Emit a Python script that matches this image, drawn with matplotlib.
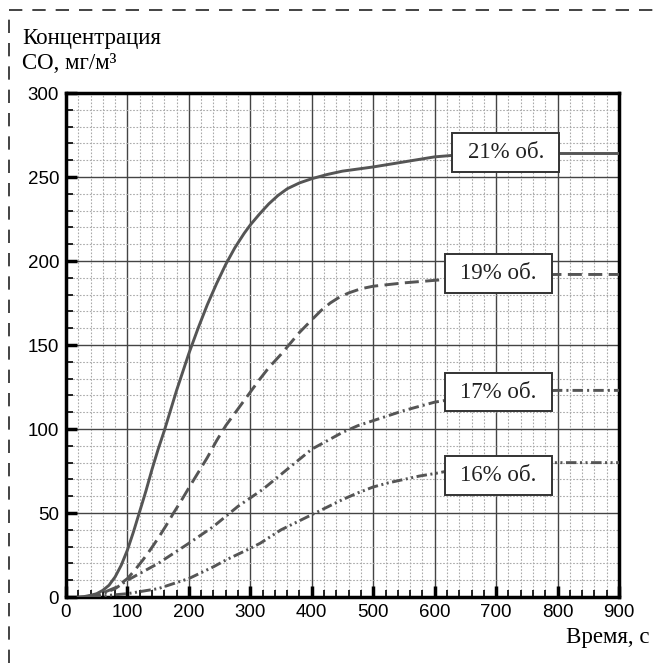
import matplotlib
matplotlib.use("Agg")
from matplotlib import pyplot as plt
from matplotlib.lines import Line2D
from matplotlib.patches import Rectangle
from matplotlib.ticker import MultipleLocator

# время, с  /  концентрация CO, мг/м3
t21 = [20, 30, 40, 50, 60, 70, 80, 90, 100, 110, 120, 130, 140, 150, 160,
       170, 180, 190, 200, 215, 230, 245, 260, 275, 290, 300, 315, 330, 345,
       360, 380, 400, 425, 450, 500, 550, 600, 650, 700, 900]
c21 = [0, 0.3, 1, 2, 4, 7, 12, 19, 28, 39, 51, 63, 76, 88, 99,
       111, 123, 134, 145, 160, 174, 186.5, 198, 208, 216.5, 221.5, 228, 234, 239,
       243, 246.5, 249, 251.5, 253.5, 256, 259, 262, 263.5, 264, 264]

t19 = [30, 45, 60, 80, 100, 112, 125, 137, 150, 162, 175, 187, 200, 215,
       230, 245, 260, 280, 300, 315, 330, 350, 365, 380, 400, 415, 430, 445,
       460, 480, 500, 550, 600, 650, 700, 800, 900]
c19 = [0, 1, 2.5, 5.5, 11, 16, 22, 28, 35, 42, 50, 57, 65, 74,
       83, 93, 102, 112, 122, 129.5, 136.5, 144.5, 151, 157.5, 165, 170.5, 175, 178.5,
       181, 183.5, 185, 187, 188.5, 190, 191.5, 192, 192]

t17 = [40, 50, 60, 70, 80, 90, 100, 125, 150, 175, 200, 220, 240, 260, 280,
       300, 320, 340, 360, 380, 400, 425, 450, 475, 500, 550, 600, 650, 700,
       800, 900]
c17 = [0, 1, 2, 3.5, 5, 7.5, 10, 15, 20, 26, 32, 37, 42, 48, 54,
       59, 64, 70, 76, 82, 88, 93, 98, 102, 105, 111, 116, 119, 122,
       123, 123]

t16 = [40, 70, 100, 125, 150, 175, 200, 220, 240, 260, 283, 300, 316, 333,
       350, 375, 400, 425, 450, 475, 500, 525, 550, 575, 600, 650, 700, 800,
       900]
c16 = [0, 1, 2, 3.5, 5, 8, 11, 14.5, 18, 22, 26, 29, 32, 36,
       40, 44.5, 49, 53.5, 58, 62, 65.5, 68, 70, 72, 73.5, 77, 79.5, 80,
       80]

labels = ["21% об.", "19% об.", "17% об.", "16% об."]
label_x = [716, 704, 704, 704]
label_y = [264.5, 192.5, 122, 72.5]

serif = ["Liberation Serif", "DejaVu Serif"]
sans = ["Liberation Sans", "DejaVu Sans"]
line_col = "#555555"

fig = plt.figure(figsize=(6.54, 6.63), dpi=100)
ax = fig.add_axes([0.1009, 0.0995, 0.8456, 0.7602])

ax.plot(t21, c21, color=line_col, lw=2.1, zorder=3)
ax.plot(t19, c19, color=line_col, lw=2.1, dashes=(4.8, 2.2), zorder=3)
ax.plot(t17, c17, color=line_col, lw=2.1, dashes=(3.6, 1.4, 0.7, 1.4), zorder=3)
ax.plot(t16, c16, color=line_col, lw=2.1,
        dashes=(3.6, 1.2, 0.7, 1.2, 0.7, 1.2), zorder=3)

# подписи в рамках
for txt, x, y in zip(labels, label_x, label_y):
    ax.add_patch(Rectangle((x - 87, y - 11.5), 174, 23, facecolor="white",
                           edgecolor="#333333", lw=1.4, zorder=5))
    ax.text(x, y, txt, ha="center", va="center", fontsize=16.5,
            family=serif, color="#222222", zorder=6)

ax.set_xlim(0, 900)
ax.set_ylim(0, 300)
ax.xaxis.set_major_locator(MultipleLocator(100))
ax.xaxis.set_minor_locator(MultipleLocator(20))
ax.yaxis.set_major_locator(MultipleLocator(50))
ax.yaxis.set_minor_locator(MultipleLocator(10))

ax.grid(which="major", color="#444444", lw=1.0, zorder=1)
ax.grid(which="minor", color="#aaaaaa", lw=0.8, ls=(0, (1.5, 1.5)), zorder=1)
ax.set_axisbelow(True)

ax.tick_params(which="major", direction="in", length=8, width=2.5,
               top=False, right=False, labelsize=13.5, pad=5)
ax.tick_params(which="minor", direction="in", length=5, width=1.2,
               top=False, right=False)
for lab in ax.get_xticklabels() + ax.get_yticklabels():
    lab.set_family(sans)
for sp in ax.spines.values():
    sp.set_linewidth(2.5)

fig.text(22 / 654, 1 - 44 / 663, "Концентрация", fontsize=16.5,
         family=serif, ha="left", va="baseline")
fig.text(22 / 654, 1 - 69 / 663, "СО, мг/м³", fontsize=16.5,
         family=serif, ha="left", va="baseline")
fig.text(650 / 654, 1 - 643 / 663, "Время, с", fontsize=16.5,
         family=serif, ha="right", va="baseline")

# пунктирная рамка вокруг рисунка
fig.add_artist(Line2D([9 / 654, 9 / 654], [0, 1 - 10 / 663], color="#222222",
                      lw=1.2, dashes=(8, 6)))
fig.add_artist(Line2D([9 / 654, 1], [1 - 10 / 663, 1 - 10 / 663],
                      color="#222222", lw=1.2, dashes=(8, 6)))

fig.savefig("out.png", dpi=100)
